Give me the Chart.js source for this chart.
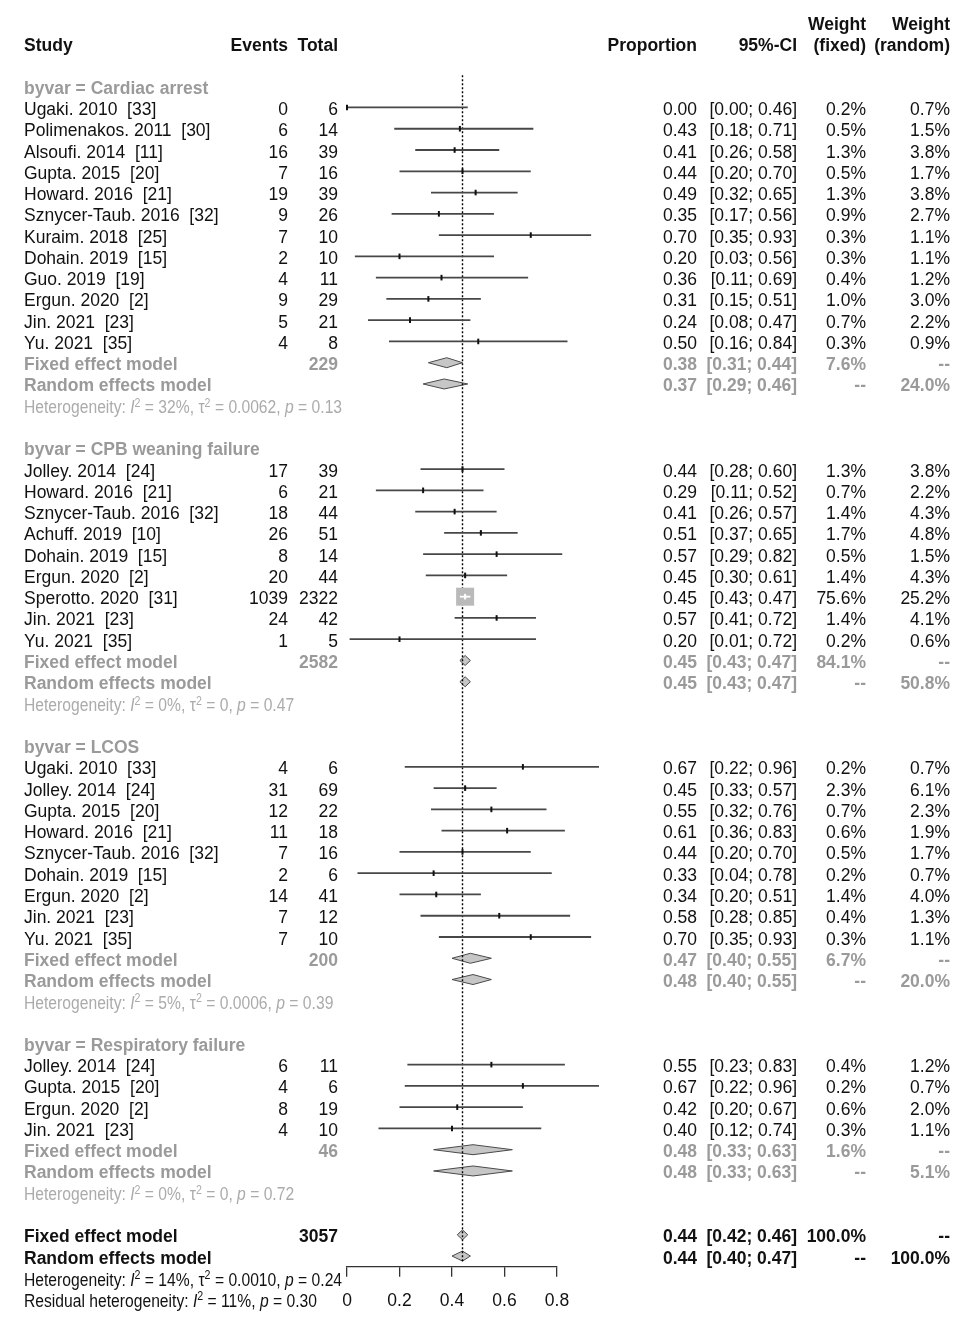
<!DOCTYPE html>
<html><head><meta charset="utf-8">
<script src="https://cdn.jsdelivr.net/npm/chart.js@4.4.1/dist/chart.umd.min.js"></script>
<style>
html,body{margin:0;padding:0;background:#fff;}
#wrap{position:relative;width:957px;height:1328px;overflow:hidden;background:#fff;}
#c{position:absolute;left:0;top:0;width:957px;height:1328px;}
#txt{position:absolute;left:0;top:0;width:957px;height:1328px;pointer-events:none;font-family:"Liberation Sans",Arial,sans-serif;font-size:17.5px;color:#111;}
.t{position:absolute;white-space:pre;line-height:20px;}
.b{font-weight:bold;}
.g{color:#9a9a9a;}
.h{color:#ababab;}
.het{transform-origin:0 50%;transform:scaleX(0.895);}
.sp{font-size:0.68em;position:relative;top:-0.55em;}
</style></head>
<body><div id="wrap"><canvas id="c" width="957" height="1328"></canvas><div id="txt"></div></div>
<script>
// ---------------- data ----------------
const groupNames = ['Cardiac arrest', 'CPB weaning failure', 'LCOS', 'Respiratory failure'];
const studyNames = [
  'Ugaki. 2010  [33]','Polimenakos. 2011  [30]','Alsoufi. 2014  [11]','Gupta. 2015  [20]','Howard. 2016  [21]','Sznycer-Taub. 2016  [32]','Kuraim. 2018  [25]','Dohain. 2019  [15]','Guo. 2019  [19]','Ergun. 2020  [2]','Jin. 2021  [23]','Yu. 2021  [35]',
  'Jolley. 2014  [24]','Howard. 2016  [21]','Sznycer-Taub. 2016  [32]','Achuff. 2019  [10]','Dohain. 2019  [15]','Ergun. 2020  [2]','Sperotto. 2020  [31]','Jin. 2021  [23]','Yu. 2021  [35]',
  'Ugaki. 2010  [33]','Jolley. 2014  [24]','Gupta. 2015  [20]','Howard. 2016  [21]','Sznycer-Taub. 2016  [32]','Dohain. 2019  [15]','Ergun. 2020  [2]','Jin. 2021  [23]','Yu. 2021  [35]',
  'Jolley. 2014  [24]','Gupta. 2015  [20]','Ergun. 2020  [2]','Jin. 2021  [23]'
];
const studyGroup = [0,0,0,0,0,0,0,0,0,0,0,0, 1,1,1,1,1,1,1,1,1, 2,2,2,2,2,2,2,2,2, 3,3,3,3];
const events = [0,6,16,7,19,9,7,2,4,9,5,4, 17,6,18,26,8,20,1039,24,1, 4,31,12,11,7,2,14,7,7, 6,4,8,4];
const totals = [6,14,39,16,39,26,10,10,11,29,21,8, 39,21,44,51,14,44,2322,42,5, 6,69,22,18,16,6,41,12,10, 11,6,19,10];
const proportion = [0.00,0.43,0.41,0.44,0.49,0.35,0.70,0.20,0.36,0.31,0.24,0.50, 0.44,0.29,0.41,0.51,0.57,0.45,0.45,0.57,0.20, 0.67,0.45,0.55,0.61,0.44,0.33,0.34,0.58,0.70, 0.55,0.67,0.42,0.40];
const ciLower = [0.00,0.18,0.26,0.20,0.32,0.17,0.35,0.03,0.11,0.15,0.08,0.16, 0.28,0.11,0.26,0.37,0.29,0.30,0.43,0.41,0.01, 0.22,0.33,0.32,0.36,0.20,0.04,0.20,0.28,0.35, 0.23,0.22,0.20,0.12];
const ciUpper = [0.46,0.71,0.58,0.70,0.65,0.56,0.93,0.56,0.69,0.51,0.47,0.84, 0.60,0.52,0.57,0.65,0.82,0.61,0.47,0.72,0.72, 0.96,0.57,0.76,0.83,0.70,0.78,0.51,0.85,0.93, 0.83,0.96,0.67,0.74];
const weightFixed = [0.2,0.5,1.3,0.5,1.3,0.9,0.3,0.3,0.4,1.0,0.7,0.3, 1.3,0.7,1.4,1.7,0.5,1.4,75.6,1.4,0.2, 0.2,2.3,0.7,0.6,0.5,0.2,1.4,0.4,0.3, 0.4,0.2,0.6,0.3];
const weightRandom = [0.7,1.5,3.8,1.7,3.8,2.7,1.1,1.1,1.2,3.0,2.2,0.9, 3.8,2.2,4.3,4.8,1.5,4.3,25.2,4.1,0.6, 0.7,6.1,2.3,1.9,1.7,0.7,4.0,1.3,1.1, 1.2,0.7,2.0,1.1];

const fixedTotal = [229, 2582, 200, 46];
const fixedEst = [0.38, 0.45, 0.47, 0.48];
const fixedLower = [0.31, 0.43, 0.40, 0.33];
const fixedUpper = [0.44, 0.47, 0.55, 0.63];
const fixedWeight = [7.6, 84.1, 6.7, 1.6];
const randomEst = [0.37, 0.45, 0.48, 0.48];
const randomLower = [0.29, 0.43, 0.40, 0.33];
const randomUpper = [0.46, 0.47, 0.55, 0.63];
const randomWeight = [24.0, 50.8, 20.0, 5.1];
const hetI2 = ['32%', '0%', '5%', '0%'];
const hetTau2 = ['0.0062', '0', '0.0006', '0'];
const hetP = ['0.13', '0.47', '0.39', '0.72'];

const overallTotal = 3057;
const overallFixed = [0.44, 0.42, 0.46];   // est, lower, upper
const overallRandom = [0.44, 0.40, 0.47];
const overallHet = ['14%', '0.0010', '0.24'];
const residualHet = ['11%', '0.30'];
const xTicks = [0, 0.2, 0.4, 0.6, 0.8];

// ---------------- layout / style ----------------
const FONT = '"Liberation Sans", Arial, sans-serif';
const ROW0 = 86.2, PITCH = 21.27, AXIS_Y = 1266.7, TEXT_DY = 1.5, HET_DY = 2.2;
const COL = {study: 24, events: 288, total: 338, prop: 697, ci: 797, wf: 866, wr: 950};
const CI_COLOR = '#474747', BOX_COLOR = '#bababa', DIA_FILL = '#c6c6c6', DIA_LINE = '#4a4a4a';
const BOX_MAX = 18, DIA_H = 0.235;

// row assignment
const groupRow = [], studyRow = [], fixedRow = [], randomRow = [], hetRow = [];
let r = 0;
groupNames.forEach((g, gi) => {
  groupRow[gi] = r++;
  studyNames.forEach((s, i) => { if (studyGroup[i] === gi) studyRow[i] = r++; });
  fixedRow[gi] = r++; randomRow[gi] = r++; hetRow[gi] = r++; r++;
});
const oFixedRow = r++, oRandomRow = r++, oHetRow = r++, resRow = r++;

const maxWF = Math.max(...weightFixed);
const boxSide = i => BOX_MAX * Math.sqrt(weightFixed[i] / maxWF);
const insideBox = (i, chart) => {
  const x = chart.scales.x;
  if (!x) return false;
  return (x.getPixelForValue(ciUpper[i]) - x.getPixelForValue(ciLower[i])) < boxSide(i);
};

const datasets = [];
// CI lines
studyNames.forEach((s, i) => {
  datasets.push({type: 'line', data: [{x: ciLower[i], y: studyRow[i]}, {x: ciUpper[i], y: studyRow[i]}],
    borderColor: ctx => insideBox(i, ctx.chart) ? '#ffffff' : CI_COLOR,
    borderWidth: 1.8, pointRadius: 0, tension: 0, fill: false, clip: false, order: 20});
});
// squares
datasets.push({type: 'scatter', data: studyNames.map((s, i) => ({x: proportion[i], y: studyRow[i]})),
  pointStyle: 'rect', pointRadius: ctx => boxSide(ctx.dataIndex) / Math.SQRT2,
  backgroundColor: BOX_COLOR, borderWidth: 0, pointBorderWidth: 0, clip: false, order: 30});
// point-estimate ticks
datasets.push({type: 'scatter', data: studyNames.map((s, i) => ({x: proportion[i], y: studyRow[i]})),
  pointStyle: 'line', rotation: 90, pointRadius: 2.8, pointBorderWidth: 2,
  pointBorderColor: ctx => insideBox(ctx.dataIndex, ctx.chart) ? '#ffffff' : '#111111',
  clip: false, order: 10});
// diamonds
function diamond(est, lo, hi, row) {
  datasets.push({type: 'line', data: [{x: lo, y: row}, {x: est, y: row - DIA_H}, {x: hi, y: row}, {x: est, y: row + DIA_H}, {x: lo, y: row}],
    borderColor: DIA_LINE, borderWidth: 1, backgroundColor: DIA_FILL, fill: 'shape', pointRadius: 0, tension: 0, clip: false, order: 50});
}
groupNames.forEach((g, gi) => {
  diamond(fixedEst[gi], fixedLower[gi], fixedUpper[gi], fixedRow[gi]);
  diamond(randomEst[gi], randomLower[gi], randomUpper[gi], randomRow[gi]);
});
diamond(overallFixed[0], overallFixed[1], overallFixed[2], oFixedRow);
diamond(overallRandom[0], overallRandom[1], overallRandom[2], oRandomRow);
// dotted reference line at the overall fixed-effect estimate
datasets.push({type: 'line', data: [{x: overallFixed[0], y: -0.52}, {x: overallFixed[0], y: oRandomRow + 0.3}],
  borderColor: '#000', borderWidth: 1.4, borderDash: [2, 2], pointRadius: 0, fill: false, clip: false, order: 40});

const canvas = document.getElementById('c');
const chart = new Chart(canvas, {
  type: 'scatter',
  data: {datasets},
  options: {
    responsive: false, animation: false, events: [],
    layout: {padding: {left: 347, right: 400, top: 0, bottom: 20}},
    plugins: {legend: {display: false}, tooltip: {enabled: false}},
    scales: {
      x: {type: 'linear', min: 0, max: 0.8, position: 'bottom',
        afterBuildTicks: s => { s.ticks = xTicks.map(v => ({value: v})); },
        ticks: {color: '#111', font: {family: FONT, size: 17.5}, padding: 14, maxRotation: 0, autoSkip: false,
          callback: v => v === 0 ? '0' : String(v)},
        grid: {drawOnChartArea: false, drawTicks: true, tickLength: 10, color: '#333', lineWidth: 1.3},
        border: {display: true, color: '#333', width: 1.3}},
      y: {type: 'linear', reverse: true, display: false, min: -4.05, max: 55.5}
    }
  }
});
// fit the plotting area so the axis sits at AXIS_Y and rows are PITCH apart
(function fit() {
  const a = chart.chartArea;
  chart.options.layout.padding.bottom += (a.bottom - AXIS_Y);
  chart.options.scales.y.min = -(ROW0 - a.top) / PITCH;
  chart.options.scales.y.max = chart.options.scales.y.min + (AXIS_Y - a.top) / PITCH;
  chart.update();
})();

// ---------------- text (real HTML text, placed with the chart's y scale) ----------------
const txt = document.getElementById('txt');
function put(html, x, row, cls, right) {
  const d = document.createElement('div');
  d.className = 't ' + (cls || '');
  d.innerHTML = html;
  const dy = (cls && cls.indexOf('het') >= 0) ? HET_DY : TEXT_DY;
  const y = chart.scales.y.getPixelForValue(row) + dy;
  d.style.top = (y - 10) + 'px';
  if (right) d.style.right = (957 - x) + 'px'; else d.style.left = x + 'px';
  txt.appendChild(d);
}
const f2 = v => v.toFixed(2);
const ci = (lo, hi) => '[' + f2(lo) + '; ' + f2(hi) + ']';
const pct = v => v.toFixed(1) + '%';
const hetHtml = (label, i2, tau2, p) => label + ': <i>I</i><span class="sp">2</span> = ' + i2 +
  (tau2 !== null ? ', τ<span class="sp">2</span> = ' + tau2 : '') + ', <i>p</i> = ' + p;

// header
put('Weight', COL.wf, -3, 'b', true);
put('Weight', COL.wr, -3, 'b', true);
put('Study', COL.study, -2, 'b');
put('Events', COL.events, -2, 'b', true);
put('Total', COL.total, -2, 'b', true);
put('Proportion', COL.prop, -2, 'b', true);
put('95%-CI', COL.ci, -2, 'b', true);
put('(fixed)', COL.wf, -2, 'b', true);
put('(random)', COL.wr, -2, 'b', true);

groupNames.forEach((g, gi) => {
  put('byvar = ' + g, COL.study, groupRow[gi], 'b g');
  studyNames.forEach((s, i) => {
    if (studyGroup[i] !== gi) return;
    const row = studyRow[i];
    put(s, COL.study, row);
    put(String(events[i]), COL.events, row, '', true);
    put(String(totals[i]), COL.total, row, '', true);
    put(f2(proportion[i]), COL.prop, row, '', true);
    put(ci(ciLower[i], ciUpper[i]), COL.ci, row, '', true);
    put(pct(weightFixed[i]), COL.wf, row, '', true);
    put(pct(weightRandom[i]), COL.wr, row, '', true);
  });
  put('Fixed effect model', COL.study, fixedRow[gi], 'b g');
  put(String(fixedTotal[gi]), COL.total, fixedRow[gi], 'b g', true);
  put(f2(fixedEst[gi]), COL.prop, fixedRow[gi], 'b g', true);
  put(ci(fixedLower[gi], fixedUpper[gi]), COL.ci, fixedRow[gi], 'b g', true);
  put(pct(fixedWeight[gi]), COL.wf, fixedRow[gi], 'b g', true);
  put('--', COL.wr, fixedRow[gi], 'b g', true);
  put('Random effects model', COL.study, randomRow[gi], 'b g');
  put(f2(randomEst[gi]), COL.prop, randomRow[gi], 'b g', true);
  put(ci(randomLower[gi], randomUpper[gi]), COL.ci, randomRow[gi], 'b g', true);
  put('--', COL.wf, randomRow[gi], 'b g', true);
  put(pct(randomWeight[gi]), COL.wr, randomRow[gi], 'b g', true);
  put(hetHtml('Heterogeneity', hetI2[gi], hetTau2[gi], hetP[gi]), COL.study, hetRow[gi], 'h het');
});

put('Fixed effect model', COL.study, oFixedRow, 'b');
put(String(overallTotal), COL.total, oFixedRow, 'b', true);
put(f2(overallFixed[0]), COL.prop, oFixedRow, 'b', true);
put(ci(overallFixed[1], overallFixed[2]), COL.ci, oFixedRow, 'b', true);
put('100.0%', COL.wf, oFixedRow, 'b', true);
put('--', COL.wr, oFixedRow, 'b', true);
put('Random effects model', COL.study, oRandomRow, 'b');
put(f2(overallRandom[0]), COL.prop, oRandomRow, 'b', true);
put(ci(overallRandom[1], overallRandom[2]), COL.ci, oRandomRow, 'b', true);
put('--', COL.wf, oRandomRow, 'b', true);
put('100.0%', COL.wr, oRandomRow, 'b', true);
put(hetHtml('Heterogeneity', overallHet[0], overallHet[1], overallHet[2]), COL.study, oHetRow, 'het');
put(hetHtml('Residual heterogeneity', residualHet[0], null, residualHet[1]), COL.study, resRow, 'het');
</script>
</body></html>
